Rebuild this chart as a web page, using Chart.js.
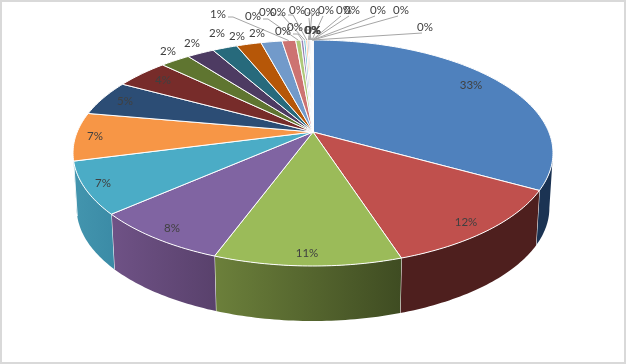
<!DOCTYPE html>
<html>
<head>
<meta charset="utf-8">
<style>
  html, body { margin: 0; padding: 0; background: #fff; }
  canvas { display: block; }
</style>
<script src="https://cdn.jsdelivr.net/npm/chart.js@4"></script>
</head>
<body>
<canvas id="pieChart" width="626" height="364"></canvas>
<script>
// share of each slice (percent)
const sliceValues = [33.1, 11.9, 10.6, 7.9, 7.4, 6.9, 5.1, 4.3, 2.4, 2.2, 2.0, 2.0, 1.7, 1.1,
  0.42, 0.22, 0.18, 0.14, 0.1, 0.08, 0.06, 0.04, 0.03, 0.03, 0.02, 0.02, 0.02, 0.01, 0.01, 0.01];
const sliceNames = sliceValues.map((v, i) => "Item " + (i + 1));

const sliceColors = ["#4f81bd", "#c0504d", "#9bbb59", "#8064a2", "#4bacc6", "#f79646",
  "#2c4d75", "#772c2a", "#5f7530", "#4d3b62", "#276a7c", "#b65708",
  "#729aca", "#cd7371", "#afc97a", "#9983b5", "#6fbdd1", "#f9aa6b",
  "#3a679c", "#9e3b38", "#7f9c40", "#664e83", "#348da5", "#f27d0e",
  "#8eadd5", "#d89593", "#c3d79b", "#b3a3c9", "#93cddc", "#fbbc8c"];

// wall shading, left and right end of each visible wall
const wallColors = [["#1b3353", "#1b3353"], ["#4e1f1e", "#4e1f1e"], ["#6c803b", "#3f4c22"],
  ["#6f5286", "#59416c"], ["#4395ae", "#3b8ba6"], ["#4395ae", "#4395ae"]];

// where each percent label sits
const labelSpots = [[471, 85], [466, 222], [307, 253], [172, 228], [103, 183], [95, 136], [125, 101], [163, 80],
  [168, 51], [192, 43], [217, 33], [237, 36], [257, 33], [218, 14],
  [253, 16], [283, 31], [267, 12], [278, 12], [295, 27], [297, 10], [312, 30], [312, 12],
  [313, 30], [313, 30], [326, 10], [344, 10], [352, 10], [378, 10], [401, 10], [425, 27]];
const firstLeader = 13;

// tilted disc: apex, axes and perspective of the top face, then the wall
const disc = { cx: 313, cy: 132, a: 235.8, b: 109.1, k: 0.1858, depth: 55, shrink: 0.985 };

function topPoint(angle) {
  const w = 1 - disc.k * Math.sin(angle);
  return [disc.cx + disc.a * Math.cos(angle) / w, disc.cy + disc.b * Math.sin(angle) / w];
}

function bottomPoint(angle) {
  const p = topPoint(angle);
  return [disc.cx + (p[0] - disc.cx) * disc.shrink, p[1] + disc.depth];
}

function arcPoints(start, end, fn) {
  const steps = Math.max(2, Math.ceil((end - start) * 60));
  const pts = [];
  for (let i = 0; i <= steps; i++) pts.push(fn(start + (end - start) * i / steps));
  return pts;
}

function trace(ctx, pts) {
  pts.forEach(p => ctx.lineTo(p[0], p[1]));
}

const disc3d = {
  id: "disc3d",
  beforeDraw(chart) {
    const ctx = chart.ctx;
    ctx.fillStyle = "#fff";
    ctx.fillRect(0, 0, chart.width, chart.height);
    ctx.strokeStyle = "#d9d9d9";
    ctx.lineWidth = 2;
    ctx.strokeRect(1, 1, chart.width - 2, chart.height - 2);
  },
  beforeDatasetsDraw(chart) {
    const ctx = chart.ctx;
    const arcs = chart.getDatasetMeta(0).data;
    const wallFrom = Math.asin(disc.k);
    const wallTo = Math.PI - wallFrom;

    // walls
    arcs.forEach((arc, i) => {
      const start = Math.max(arc.startAngle, wallFrom);
      const end = Math.min(arc.endAngle, wallTo);
      if (end <= start || !wallColors[i]) return;
      const upper = arcPoints(start, end, topPoint);
      const lower = arcPoints(start, end, bottomPoint).reverse();
      const xs = upper.concat(lower).map(p => p[0]);
      const grad = ctx.createLinearGradient(Math.min(...xs), 0, Math.max(...xs), 0);
      grad.addColorStop(0, wallColors[i][0]);
      grad.addColorStop(1, wallColors[i][1]);
      ctx.beginPath();
      trace(ctx, upper.concat(lower));
      ctx.closePath();
      ctx.fillStyle = grad;
      ctx.fill();
      // white seam where this wall meets the next slice
      if (arc.endAngle < wallTo) {
        ctx.beginPath();
        ctx.moveTo(upper[upper.length - 1][0], upper[upper.length - 1][1]);
        ctx.lineTo(lower[0][0], lower[0][1]);
        ctx.strokeStyle = "#fff";
        ctx.lineWidth = 1;
        ctx.stroke();
      }
    });

    // top face
    arcs.forEach((arc, i) => {
      ctx.beginPath();
      ctx.moveTo(disc.cx, disc.cy);
      trace(ctx, arcPoints(arc.startAngle, arc.endAngle, topPoint));
      ctx.closePath();
      ctx.fillStyle = sliceColors[i];
      ctx.fill();
      ctx.strokeStyle = "#fff";
      ctx.lineWidth = 1;
      ctx.stroke();
    });

    // leader lines
    ctx.strokeStyle = "#a6a6a6";
    ctx.lineWidth = 1;
    arcs.forEach((arc, i) => {
      if (i < firstLeader) return;
      const spot = labelSpots[i];
      const end = topPoint((arc.startAngle + arc.endAngle) / 2);
      ctx.beginPath();
      if (spot[0] < end[0] - 12) {
        ctx.moveTo(spot[0] + 10, spot[1] + 3);
        ctx.lineTo(spot[0] + 15, spot[1] + 3);
      } else {
        ctx.moveTo(spot[0] - 3, spot[1] + 6);
      }
      ctx.lineTo(end[0], end[1]);
      ctx.stroke();
    });

    // percent labels
    const total = sliceValues.reduce((s, v) => s + v, 0);
    ctx.font = "11.5px Lato";
    ctx.fillStyle = "#404040";
    ctx.textAlign = "center";
    ctx.textBaseline = "middle";
    sliceValues.forEach((v, i) => {
      ctx.fillText(Math.round(v / total * 100) + "%", labelSpots[i][0], labelSpots[i][1]);
    });
    return false; // the library's flat circle is replaced by the drawing above
  }
};

new Chart(document.getElementById("pieChart"), {
  type: "pie",
  data: {
    labels: sliceNames,
    datasets: [{ data: sliceValues, backgroundColor: sliceColors }]
  },
  options: {
    responsive: false,
    animation: false,
    plugins: { legend: { display: false }, tooltip: { enabled: false } }
  },
  plugins: [disc3d]
});
</script>
</body>
</html>
